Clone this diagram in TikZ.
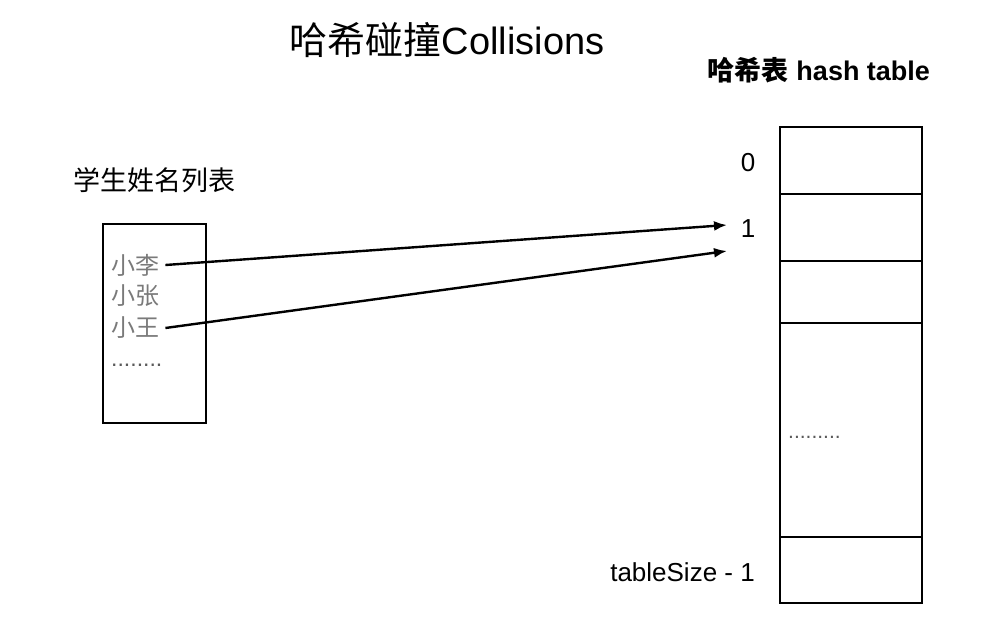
\documentclass[tikz,border=0pt]{standalone}
\usepackage{fontspec}
\setmainfont{Liberation Sans}
\newfontfamily\cjk{Noto Sans CJK SC}
\usetikzlibrary{arrows.meta, positioning}
\definecolor{ink}{HTML}{000000}
\definecolor{namegray}{HTML}{7A7A7A}
\definecolor{dotgray}{HTML}{5A5A5A}
\tikzset{
  cell/.style     = {draw=ink, line width=2.6pt, minimum width=142pt,
                     inner sep=0pt, outer sep=0pt},
  idx/.style      = {font=\fontsize{26}{30}\selectfont, text=ink, inner sep=0pt},
  nameitem/.style = {font=\cjk\fontsize{24}{28}\selectfont, text=namegray,
                     anchor=west, inner sep=0pt},
  dots/.style     = {font=\fontsize{21}{24}\selectfont, text=dotgray,
                     anchor=west, inner sep=0pt},
  arr/.style      = {-{Latex[length=13pt,width=10pt]}, line width=2.4pt, ink},
}
\begin{document}
\begin{tikzpicture}[x=1pt, y=-1pt]
  \useasboundingbox (0,0) rectangle (987,631);

  % titles
  \node (title) at (447,40) {\fontsize{38}{44}\selectfont{\cjk 哈希碰撞}Collisions};
  \node (tabtitle) at (819,70)
    {\fontsize{27}{32}\selectfont\bfseries{\cjk 哈希表} hash table};

  % hash table
  \node[cell, minimum height=67pt, anchor=north] (cell0) at (851,127) {};
  \node[cell, minimum height=67pt, below=0pt of cell0] (cell1) {};
  \node[cell, minimum height=62pt, below=0pt of cell1] (cell2) {};
  \node[cell, minimum height=214pt, below=0pt of cell2] (cellmid) {};
  \node[cell, minimum height=66pt, below=0pt of cellmid] (celllast) {};
  \node[dots] (tabdots) at (788,437) {.........};

  % index labels
  \node[idx] (idx0) at (748,163) {0};
  \node[idx] (idx1) at (748,229) {1};
  \node[idx, anchor=east] (idxlast) at (755,572) {tableSize - 1};

  % student list
  \node[font=\cjk\fontsize{27}{32}\selectfont] (listtitle) at (154,180) {学生姓名列表};
  \node[draw=ink, line width=2.6pt, minimum width=103pt, minimum height=199pt,
        inner sep=0pt] (listbox) at (154.5,323.5) {};
  \node[nameitem] (nameLi) at (111,265) {小李};
  \node[nameitem] (nameZhang) at (111,296) {小张};
  \node[nameitem] (nameWang) at (111,328) {小王};
  \node[dots, font=\fontsize{23}{26}\selectfont] (listdots) at (111,365) {........};

  % collisions
  \coordinate (hit1) at (727,225);
  \coordinate (hit2) at (727,251);
  \draw[arr] ([xshift=6pt]nameLi.east) -- (hit1);
  \draw[arr] ([xshift=6pt]nameWang.east) -- (hit2);

\end{tikzpicture}
\end{document}
